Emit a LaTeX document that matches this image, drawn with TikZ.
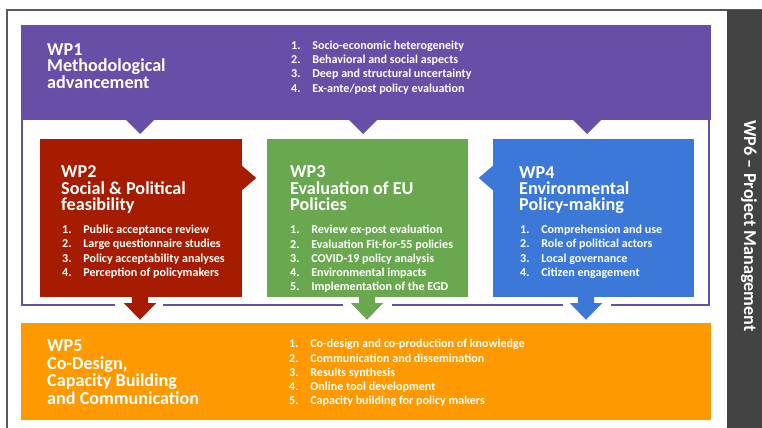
\documentclass[tikz,border=0pt]{standalone}
\usepackage{fontspec}
\setmainfont{Carlito}
\usetikzlibrary{calc}

\definecolor{wppurple}{HTML}{674EA7}
\definecolor{wpred}{HTML}{A61C00}
\definecolor{wpgreen}{HTML}{6AA84F}
\definecolor{wpblue}{HTML}{3C78D8}
\definecolor{wporange}{HTML}{FF9900}
\definecolor{wpdark}{HTML}{434343}
\definecolor{wpline}{HTML}{595959}

\newcommand{\wpnum}[1]{\makebox[18pt][l]{#1.}}

\begin{document}
\begin{tikzpicture}[x=0.03cm,y=-0.03cm,
  wpbox/.style={rectangle, inner sep=0pt, minimum height=4.74cm},
  wptitle/.style={anchor=north west, inner sep=0pt, text=white, align=left, font=\fontsize{15.5}{14}\selectfont\bfseries},
  wpitems/.style={anchor=north west, inner sep=0pt, text=white, align=left, font=\fontsize{10.3}{12.2}\selectfont\bfseries}]
\useasboundingbox (0,0) rectangle (762,428);
\draw[wpline, line width=1.5pt] (7,428) -- (7,10) -- (762,10);
\node[fill=wpdark, inner sep=0pt, minimum width=1.05cm, minimum height=12.54cm] (wp6) at (744.5,219) {};
\node[rotate=-90, anchor=base, inner sep=0pt, text=white, font=\fontsize{15.5}{15}\selectfont\bfseries] (wp6label) at (744,226) {WP6 -- Project Management};

\draw[wppurple, line width=1.5pt] (22,118) -- (22,305) -- (709,305) -- (709,118);

\node[wpbox, fill=wppurple, minimum width=20.7cm, minimum height=2.85cm] (wp1) at (366,72.5) {};
\node[wpbox, fill=wpred, minimum width=6.06cm] (wp2) at (141,218) {};
\node[wpbox, fill=wpgreen, minimum width=6.03cm] (wp3) at (367.5,218) {};
\node[wpbox, fill=wpblue, minimum width=6.03cm] (wp4) at (593.5,218) {};
\node[wpbox, fill=wporange, minimum width=20.7cm, minimum height=2.91cm] (wp5) at (366,371.5) {};

\fill[wppurple] (125,119) -- (155,119) -- (140,134) -- cycle;
\fill[wppurple] (348,119) -- (378,119) -- (363,134) -- cycle;
\fill[wppurple] (572,119) -- (602,119) -- (587,134) -- cycle;

\fill[wpred] ($(wp2.east)+(-1,-53)$) -- ($(wp2.east)+(14,-40)$) -- ($(wp2.east)+(-1,-27)$) -- cycle;
\fill[wpblue] ($(wp4.west)+(1,-53)$) -- ($(wp4.west)+(-14,-40)$) -- ($(wp4.west)+(1,-27)$) -- cycle;

\fill[white] (115,300) rectangle (163,310);
\fill[white] (343,300) rectangle (392,310);
\fill[white] (563,300) rectangle (611,310);

\fill[wpred] ($(wp2.south)+(-9,-1)$) -- ++(0,7) -- ++(-8,0) -- ($(wp5.north -| wp2.south)+(-1,-3)$) -- ($(wp2.south)+(15,6)$) -- ++(-8,0) -- ++(0,-7) -- cycle;
\fill[wpgreen] ($(wp3.south)+(-8.5,-1)$) -- ++(0,7) -- ++(-8,0) -- ($(wp5.north -| wp3.south)+(-0.5,-3)$) -- ($(wp3.south)+(15.5,6)$) -- ++(-8,0) -- ++(0,-7) -- cycle;
\fill[wpblue] ($(wp4.south)+(-15.5,-1)$) -- ++(0,7) -- ++(-8,0) -- ($(wp5.north -| wp4.south)+(-7.5,-3)$) -- ($(wp4.south)+(8.5,6)$) -- ++(-8,0) -- ++(0,-7) -- cycle;

\node[wptitle] (wp1title) at (47,43.3) {WP1\\Methodological\\advancement};
\node[wpitems] (wp1items) at (291,40.5) {\wpnum{1}Socio-economic heterogeneity\\\wpnum{2}Behavioral and social aspects\\\wpnum{3}Deep and structural uncertainty\\\wpnum{4}Ex-ante/post policy evaluation};

\node[wptitle] (wp2title) at (61,165.5) {WP2\\Social \& Political\\feasibility};
\node[wpitems] (wp2items) at (62,225) {\wpnum{1}Public acceptance review\\\wpnum{2}Large questionnaire studies\\\wpnum{3}Policy acceptability analyses\\\wpnum{4}Perception of policymakers};

\node[wptitle] (wp3title) at (290,165.5) {WP3\\Evaluation of EU\\Policies};
\node[wpitems] (wp3items) at (290,225) {\wpnum{1}Review ex-post evaluation\\\wpnum{2}Evaluation Fit-for-55 policies\\\wpnum{3}COVID-19 policy analysis\\\wpnum{4}Environmental impacts\\\wpnum{5}Implementation of the EGD};

\node[wptitle] (wp4title) at (519,166) {WP4\\Environmental\\Policy-making};
\node[wpitems] (wp4items) at (520,225) {\wpnum{1}Comprehension and use\\\wpnum{2}Role of political actors\\\wpnum{3}Local governance\\\wpnum{4}Citizen engagement};

\node[wptitle, font=\fontsize{15.5}{15}\selectfont\bfseries] (wp5title) at (47,339.5) {WP5\\Co-Design,\\Capacity Building\\and Communication};
\node[wpitems] (wp5items) at (289,339) {\wpnum{1}Co-design and co-production of knowledge\\\wpnum{2}Communication and dissemination\\\wpnum{3}Results synthesis\\\wpnum{4}Online tool development\\\wpnum{5}Capacity building for policy makers};
\end{tikzpicture}
\end{document}
